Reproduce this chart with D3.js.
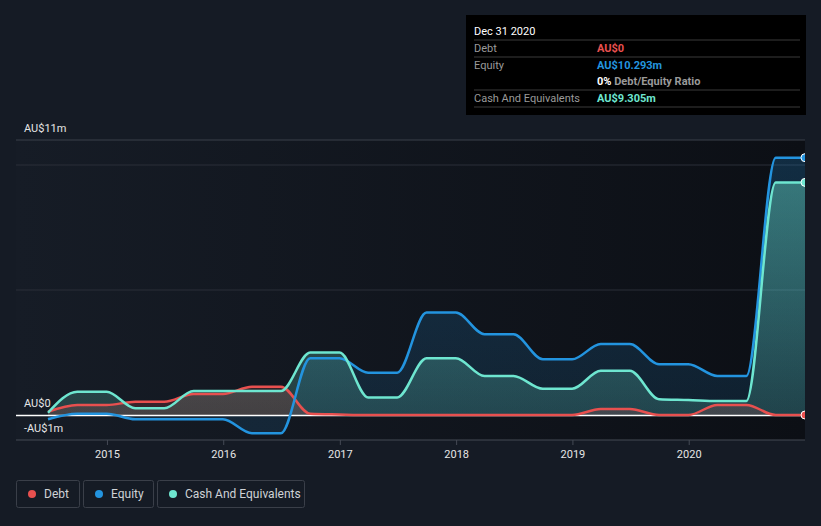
<!DOCTYPE html>
<html>
<head>
<meta charset="utf-8">
<script src="https://cdn.jsdelivr.net/npm/d3@7"></script>
<style>
  html, body { margin: 0; padding: 0; background: #151b25; }
  svg { display: block; font-family: Roboto, "Noto Sans", sans-serif; }
</style>
</head>
<body>
<svg id="chart" width="821" height="526"></svg>
<script>
// ---- data ----
const dates = ["2014-06-30","2014-09-30","2014-12-31","2015-03-31","2015-06-30","2015-09-30","2015-12-31",
  "2016-03-31","2016-06-30","2016-09-30","2016-12-31","2017-03-31","2017-06-30","2017-09-30","2017-12-31",
  "2018-03-31","2018-06-30","2018-09-30","2018-12-31","2019-03-31","2019-06-30","2019-09-30","2019-12-31",
  "2020-03-31","2020-06-30","2020-09-30","2020-12-31"];
const debt   = [0.13,0.4,0.4,0.53,0.53,0.84,0.84,1.13,1.13,0.05,0.02,0,0,0,0,0,0,0,0,0.24,0.24,0,0,0.4,0.4,0,0];
const equity = [-0.17,0.05,0.05,-0.17,-0.17,-0.17,-0.17,-0.73,-0.73,2.27,2.27,1.69,1.69,4.1,4.1,3.23,3.23,2.23,2.23,2.84,2.84,2.03,2.03,1.56,1.56,10.293,10.293];
const cash   = [0.09,0.93,0.93,0.27,0.27,0.96,0.96,0.96,0.96,2.5,2.5,0.7,0.7,2.27,2.27,1.56,1.56,1.05,1.05,1.77,1.77,0.63,0.6,0.56,0.56,9.305,9.305];
const yTicks = [-1, 0, 11];
const yTickLabels = ["-AU$1m", "AU$0", "AU$11m"];
const gridValues = [5, 10];
const xTickYears = [2015, 2016, 2017, 2018, 2019, 2020];
const seriesNames = ["Debt", "Equity", "Cash And Equivalents"];
const colors = { debt: "#e8504f", equity: "#2394df", cash: "#6ee6d0" };
const tooltipDate = "Dec 31 2020";
const tooltipRows = [
  { label: "Debt", value: "AU$0", key: "debt" },
  { label: "Equity", value: "AU$10.293m", key: "equity" },
  { label: "", value: "0%", extra: " Debt/Equity Ratio", key: "ratio" },
  { label: "Cash And Equivalents", value: "AU$9.305m", key: "cash" }
];

// ---- layout ----
const svg = d3.select("#chart");
const pLeft = 16, pRight = 805, pTop = 140, pBottom = 440;
const parse = d3.timeParse("%Y-%m-%d");
const D = dates.map(parse);
const x = d3.scaleTime().domain([D[0], D[D.length - 1]]).range([48, pRight]);
const y = d3.scaleLinear().domain([-1, 11]).range([pBottom, pTop]);

const defs = svg.append("defs");
const bgGrad = defs.append("linearGradient").attr("id", "bgGrad").attr("x1", "0").attr("x2", "1").attr("y1", "0").attr("y2", "0");
bgGrad.append("stop").attr("offset", "0").attr("stop-color", "#161c26");
bgGrad.append("stop").attr("offset", "1").attr("stop-color", "#0c0f15");

function areaGrad(id, color, o1, o2) {
  const g = defs.append("linearGradient").attr("id", id).attr("gradientUnits", "userSpaceOnUse")
    .attr("x1", 0).attr("x2", 0).attr("y1", y(10)).attr("y2", y(0));
  g.append("stop").attr("offset", "0").attr("stop-color", color).attr("stop-opacity", o1);
  g.append("stop").attr("offset", "1").attr("stop-color", color).attr("stop-opacity", o2);
}
areaGrad("gCash", colors.cash, 0.42, 0.18);
areaGrad("gEq", colors.equity, 0.22, 0.12);
areaGrad("gDebt", colors.debt, 0.3, 0.16);

defs.append("clipPath").attr("id", "clip").append("rect")
  .attr("x", pLeft).attr("y", 0).attr("width", pRight - pLeft).attr("height", 526);

// plot background
svg.append("rect").attr("x", pLeft).attr("y", pTop).attr("width", pRight - pLeft).attr("height", pBottom - pTop)
  .attr("fill", "url(#bgGrad)");

// gridlines
svg.append("line").attr("x1", pLeft).attr("x2", pRight).attr("y1", y(11)).attr("y2", y(11))
  .attr("stroke", "#3b404a").attr("stroke-width", 1);
svg.selectAll(".grid").data(gridValues).enter().append("line")
  .attr("x1", pLeft).attr("x2", pRight).attr("y1", d => y(d)).attr("y2", d => y(d))
  .attr("stroke", "#2a2f38").attr("stroke-width", 1);

// x axis
const xAxis = d3.axisBottom(x)
  .tickValues(xTickYears.map(yr => new Date(yr, 0, 1)))
  .tickFormat(d3.timeFormat("%Y")).tickSize(5).tickSizeOuter(0);
const gx = svg.append("g").attr("transform", `translate(0,${pBottom})`).call(xAxis);
gx.select(".domain").remove();
gx.append("line").attr("x1", pLeft).attr("x2", pRight).attr("y1", 0).attr("y2", 0).attr("stroke", "#454a55");
gx.selectAll(".tick line").attr("stroke", "#454a55");
gx.selectAll(".tick text").attr("fill", "#e6e6e6").attr("font-size", 11).attr("dy", "0.9em")
  .attr("font-family", "Roboto, sans-serif");

// y labels
svg.selectAll(".ylab").data(yTicks).enter().append("text")
  .attr("x", 24).attr("y", d => y(d) - 8)
  .attr("fill", "#e6e6e6").attr("font-size", 11).text((d, i) => yTickLabels[i]);

// series
const rows = D.map((d, i) => ({ d, debt: debt[i], equity: equity[i], cash: cash[i] }));
const gA = svg.append("g").attr("clip-path", "url(#clip)");
const curve = d3.curveMonotoneX;
function drawArea(key, fill) {
  gA.append("path").datum(rows)
    .attr("d", d3.area().curve(curve).x(r => x(r.d)).y0(y(0)).y1(r => y(r[key])))
    .attr("fill", fill);
}
drawArea("equity", "url(#gEq)");
drawArea("cash", "url(#gCash)");
drawArea("debt", "url(#gDebt)");

// zero line
svg.append("line").attr("x1", pLeft).attr("x2", pRight).attr("y1", y(0) + 0.5).attr("y2", y(0) + 0.5)
  .attr("stroke", "#ffffff").attr("stroke-width", 1.5);

const gL = svg.append("g").attr("clip-path", "url(#clip)");
function drawLine(key, color) {
  gL.append("path").datum(rows)
    .attr("d", d3.line().curve(curve).x(r => x(r.d)).y(r => y(r[key])))
    .attr("fill", "none").attr("stroke", color).attr("stroke-width", 2.5);
}
drawLine("debt", colors.debt);
drawLine("equity", colors.equity);
drawLine("cash", colors.cash);

// end markers
const last = rows[rows.length - 1];
["debt", "equity", "cash"].forEach(k => {
  gL.append("circle").attr("cx", x(last.d)).attr("cy", y(last[k])).attr("r", 4)
    .attr("fill", colors[k]).attr("stroke", "#ffffff").attr("stroke-width", 1);
});

// tooltip
const tt = svg.append("g").attr("transform", "translate(466,15)");
tt.append("rect").attr("width", 340).attr("height", 100).attr("fill", "#000000");
tt.append("text").attr("x", 8).attr("y", 20).attr("fill", "#ffffff").attr("font-size", 11).text(tooltipDate);
const lineYs = [25, 42, 75, 92];
lineYs.forEach(ly => tt.append("line").attr("x1", 8).attr("x2", 334).attr("y1", ly).attr("y2", ly)
  .attr("stroke", "#3a3a3a").attr("stroke-width", 1));
const rowYs = [37, 54, 70, 87];
tooltipRows.forEach((r, i) => {
  if (r.label) tt.append("text").attr("x", 8).attr("y", rowYs[i]).attr("fill", "#9a9a9a").attr("font-size", 11).text(r.label);
  const t = tt.append("text").attr("x", 131).attr("y", rowYs[i]).attr("font-size", 11).attr("font-weight", "bold");
  if (r.key === "ratio") {
    t.append("tspan").attr("fill", "#ffffff").text(r.value);
    t.append("tspan").attr("fill", "#9a9a9a").text(r.extra);
  } else {
    t.attr("fill", colors[r.key]).text(r.value);
  }
});

// legend
const legendKeys = ["debt", "equity", "cash"];
const lg = svg.append("g");
const boxes = [{ x: 16, w: 63 }, { x: 83, w: 70 }, { x: 157, w: 147 }];
legendKeys.forEach((k, i) => {
  const b = boxes[i];
  lg.append("rect").attr("x", b.x + 0.5).attr("y", 480.5).attr("width", b.w).attr("height", 27).attr("rx", 2)
    .attr("fill", "none").attr("stroke", "#3a3f49");
  lg.append("circle").attr("cx", b.x + 16).attr("cy", 494).attr("r", 4).attr("fill", colors[k]);
  lg.append("text").attr("x", b.x + 28).attr("y", 498).attr("fill", "#cfd2d6").attr("font-size", 12).text(seriesNames[i]);
});
</script>
</body>
</html>
